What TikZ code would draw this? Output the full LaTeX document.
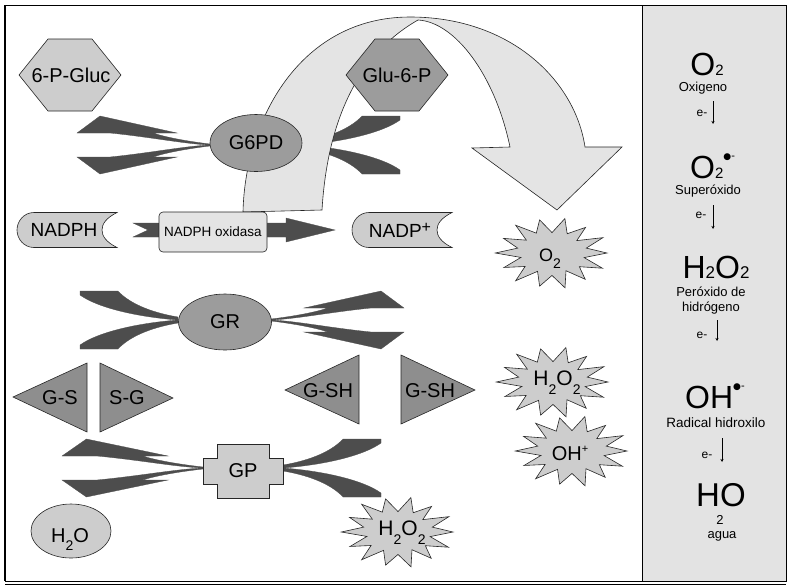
\documentclass[tikz,border=0pt]{standalone}
\usepackage{fontspec}
\setmainfont{Liberation Sans}
\newfontfamily\symfont{DejaVu Sans}
\usetikzlibrary{shapes.geometric,arrows.meta}

\definecolor{lightfill}{HTML}{CDCDCD}
\definecolor{midfill}{HTML}{9C9C9C}
\definecolor{trifill}{HTML}{8E8E8E}
\definecolor{forkfill}{HTML}{4D4D4D}
\definecolor{archfill}{HTML}{E4E4E4}
\definecolor{panelfill}{HTML}{E3E3E3}

\newcommand\subdn[2][-9pt]{\raisebox{#1}{\fontsize{14}{14}\selectfont #2}}
\newcommand\raddot{\raisebox{19pt}{\symfont\fontsize{9}{9}\selectfont ●}\raisebox{19pt}{\fontsize{11}{11}\selectfont -}}

\tikzset{
  outline/.style={draw=black!85, line width=0.6pt},
  lbl/.style={inner sep=0pt, font=\fontsize{20}{24}\selectfont},
  small/.style={inner sep=0pt, font=\fontsize{13}{15}\selectfont},
  tinylbl/.style={inner sep=0pt, font=\fontsize{12}{14}\selectfont},
  earrow/.style={-{Stealth[length=3pt,width=3pt]}, line width=0.5pt},
  fork/.style={fill=forkfill, draw=forkfill, line width=0.3pt},
  ellipsebox/.style={ellipse, outline, inner sep=0pt},
  % two barbed prongs, pointing left from the origin
  pics/barbfork/.style={code={
    \foreach \s in {1,-1}
      \path[fork, yscale=\s] (0,-1) .. controls (-25,-4) and (-45,-8) .. (-57,-12)
        -- (-33,-12) -- (-110,-29) -- (-133,-12) -- (-100,-12)
        .. controls (-60,-8) and (-25,-1) .. (0,0) -- cycle;
  }},
  % two curved horns, pointing right from the origin
  pics/hornfork/.style={code={
    \foreach \s in {1,-1}
      \path[fork, yscale=\s] (0,-3) .. controls (30,-8) and (50,-18) .. (60,-29)
        -- (98,-29) -- (98,-25) .. controls (80,-12) and (40,-3) .. (0,0) -- cycle;
  }},
  pics/hexa/.style={code={
    \path[outline, fill=#1] (-51,0) -- (-22,-36) -- (22,-36) -- (51,0)
      -- (22,36) -- (-22,36) -- cycle;
  }},
  pics/scroll/.style={code={
    \path[outline, fill=lightfill] (100,-17.5) -- (17,-17.5)
      .. controls (7,-17.5) and (0,-9) .. (0,0)
      .. controls (0,9) and (7,17.5) .. (17,17.5) -- (100,17.5)
      .. controls (89,12) and (85,6) .. (85,0)
      .. controls (85,-6) and (89,-12) .. (100,-17.5) -- cycle;
  }},
  pics/burst/.style={code={
    \path[outline, fill=lightfill] (0:55 and 34)
      \foreach \a/\f in {13/.6, 26/1.02, 39/.64, 52/.98, 64/.58, 77/1.05,
        90/.66, 103/1.0, 116/.6, 129/1.05, 141/.63, 154/.97, 167/.58,
        180/1.03, 193/.64, 206/.98, 219/.6, 231/1.05, 244/.65, 257/1.0,
        270/.6, 283/1.04, 296/.63, 309/.97, 321/.58, 334/1.03, 347/.64}
        { -- ({\a}:{\f*55} and {\f*34}) } -- cycle;
  }}
}

\begin{document}
\begin{tikzpicture}[x=1pt, y=-1pt]
  \useasboundingbox (0,0) rectangle (792,587);

  % frame and side panel
  \draw[line width=0.8pt] (5,5) rectangle (786,581);
  \draw[line width=1.4pt] (5,5) -- (5,581);
  \draw[line width=0.8pt] (5,584) -- (786,584);
  \filldraw[fill=panelfill, line width=0.8pt] (642,5) rectangle (786,581);

  % horns behind the arch
  \pic at (302,145) {hornfork};

  % big arch arrow
  \draw[outline, fill=archfill] (243,212) .. controls (245,120) and (300,17) .. (410,17)
    .. controls (510,17) and (575,80) .. (585,147) -- (622,147) -- (557,210)
    -- (472,148) -- (510,147) .. controls (495,75) and (455,22) .. (418,20)
    .. controls (365,50) and (328,110) .. (322,210) -- cycle;

  % hexagons
  \pic at (70,75) {hexa=lightfill};
  \node[lbl] (pgluc) at (71,75) {6-P-Gluc};
  \pic at (397,75) {hexa=midfill};
  \node[lbl] (glup) at (397,75) {Glu-6-P};

  % G6PD
  \pic at (210,145) {barbfork};
  \node[ellipsebox, fill=midfill, minimum width=92pt, minimum height=57pt,
    font=\fontsize{20}{24}\selectfont] (gsixpd) at (256,143) {G6PD};

  % NADPH row
  \pic at (17,230) {scroll};
  \node[lbl, font=\fontsize{19}{22}\selectfont] (nadph) at (64,230) {NADPH};
  \path[fork] (133,223) -- (286,223) -- (286,218) -- (335,230) -- (286,242)
    -- (286,237) -- (133,237) -- (148,230) -- cycle;
  \node[outline, fill=archfill, rounded corners=4pt, minimum width=108pt,
    minimum height=40pt, inner sep=0pt, font=\fontsize{13.5}{16}\selectfont]
    (oxidasa) at (213,232) {NADPH oxidasa};
  \pic at (352,230) {scroll};
  \node[lbl, font=\fontsize{19}{22}\selectfont] (nadp) at (400,230)
    {NADP\raisebox{5pt}{\fontsize{16}{16}\selectfont+}};

  % GR
  \pic[xscale=-1] at (271,320) {barbfork};
  \pic[xscale=-1] at (178,320) {hornfork};
  \node[ellipsebox, fill=midfill, minimum width=93pt, minimum height=56pt,
    font=\fontsize{20}{24}\selectfont] (gr) at (225,322) {GR};

  % glutathione triangles
  \path[outline, fill=trifill] (13,397) -- (87,363) -- (87,432) -- cycle;
  \node[lbl] (gs) at (60,398) {G-S};
  \path[outline, fill=trifill] (100,363) -- (173,398) -- (100,432) -- cycle;
  \node[lbl] (sg) at (127,398) {S-G};
  \path[outline, fill=trifill] (285,390) -- (359,355) -- (359,424) -- cycle;
  \node[lbl] (gsha) at (328,391) {G-SH};
  \path[outline, fill=trifill] (401,355) -- (475,390) -- (401,424) -- cycle;
  \node[lbl] (gshb) at (430,391) {G-SH};

  % GP
  \pic[xscale=1.06] at (203,468) {barbfork};
  \pic at (283,468) {hornfork};
  \path[outline, fill=lightfill] (217,444) -- (269,444) -- (269,458) -- (283,458)
    -- (283,484) -- (269,484) -- (269,498) -- (217,498) -- (217,484) -- (203,484)
    -- (203,458) -- (217,458) -- cycle;
  \node[lbl] (gp) at (243,471) {GP};

  % water
  \node[ellipsebox, fill=lightfill, minimum width=80pt, minimum height=54pt]
    (waterell) at (71,531) {};
  \node[lbl, anchor=base] (water) at (70,542) {H\subdn[-8pt]{2}O};

  % radicals
  \pic at (552,253) {burst};
  \node[lbl, anchor=base, font=\fontsize{18}{20}\selectfont] (otwo) at (550,261)
    {O\subdn[-7pt]{2}};
  \pic at (553,382) {burst};
  \node[lbl, anchor=base, font=\fontsize{21}{24}\selectfont] (htwootwo) at (557,385)
    {H\subdn{2}O\subdn{2}};
  \pic at (572,451) {burst};
  \node[lbl, anchor=base] (ohplus) at (570,460)
    {OH\raisebox{8pt}{\fontsize{11}{11}\selectfont +}};
  \pic at (398,532) {burst};
  \node[lbl, anchor=base, font=\fontsize{21}{24}\selectfont] (htwootwob) at (402,535)
    {H\subdn{2}O\subdn{2}};

  % side panel: reduction steps
  \node[inner sep=0pt, anchor=base] (oxi) at (707,75)
    {\fontsize{32}{32}\selectfont O\fontsize{15}{15}\selectfont 2};
  \node[small, anchor=base] (oxiname) at (703,91) {Oxigeno};
  \node[tinylbl, anchor=base] (eone) at (702,116) {e-};
  \coordinate (eonetop) at (713,101);
  \coordinate (eonebot) at (713,124);
  \draw[earrow] (eonetop) -- (eonebot);

  \node[inner sep=0pt, anchor=base west] (supe) at (690,178)
    {\fontsize{32}{32}\selectfont O\fontsize{15}{15}\selectfont 2\raddot};
  \node[small, anchor=base] (supename) at (708,194) {Superóxido};
  \node[tinylbl, anchor=base] (etwo) at (701,218) {e-};
  \coordinate (etwotop) at (713,205);
  \coordinate (etwobot) at (713,229);
  \draw[earrow] (etwotop) -- (etwobot);

  \node[inner sep=0pt, anchor=base] (pero) at (716,278)
    {\fontsize{32}{32}\selectfont H\fontsize{17}{17}\selectfont 2\fontsize{32}{32}\selectfont O\fontsize{17}{17}\selectfont 2};
  \node[small, anchor=base] (peroname) at (711,296) {Peróxido de};
  \node[small, anchor=base] (peronameb) at (711,311) {hidrógeno};
  \node[tinylbl, anchor=base] (ethree) at (702,338) {e-};
  \coordinate (ethreetop) at (717,320);
  \coordinate (ethreebot) at (717,341);
  \draw[earrow] (ethreetop) -- (ethreebot);

  \node[inner sep=0pt, anchor=base west] (hidr) at (685,408)
    {\fontsize{32}{32}\selectfont OH\raddot};
  \node[small, anchor=base, font=\fontsize{13.5}{15}\selectfont] (hidrname) at (716,427) {Radical hidroxilo};
  \node[tinylbl, anchor=base] (efour) at (707,458) {e-};
  \coordinate (efourtop) at (722,438);
  \coordinate (efourbot) at (722,462);
  \draw[earrow] (efourtop) -- (efourbot);

  \node[inner sep=0pt, anchor=base west] (agu) at (696,506)
    {\fontsize{33}{33}\selectfont HO};
  \node[inner sep=0pt, anchor=base, font=\fontsize{13}{13}\selectfont] (agutwo) at (720,524) {2};
  \node[small, anchor=base] (aguname) at (722,538) {agua};
\end{tikzpicture}
\end{document}
